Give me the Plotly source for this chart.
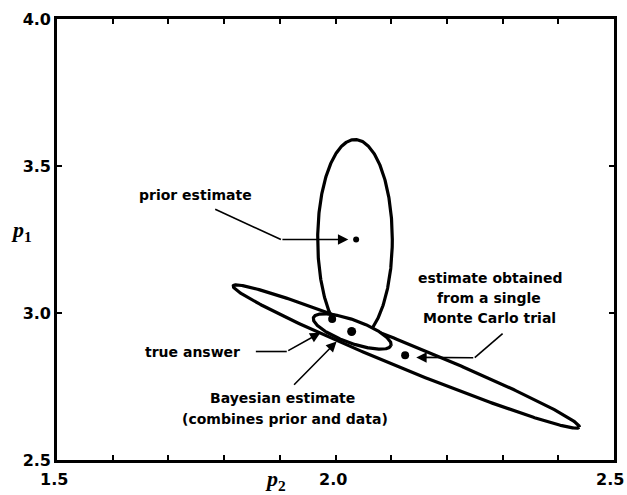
import numpy as np
import plotly.graph_objects as go

# ---- data ----
# ellipses: centre, half-axis vector A, conjugate half-axis vector B (data units)
prior_center = [2.035, 3.25]
prior_A = [0.067, 0.0]
prior_B = [0.0, 0.340]

data_center = [2.127, 2.852]
data_A = [0.3107, -0.2404]
data_B = [-0.0084, -0.0392]

bayes_center = [2.030, 2.937]
bayes_A = [0.0696, -0.0474]
bayes_B = [-0.0066, -0.0370]

# points
prior_pt = [2.037, 3.25]
data_pt = [2.125, 2.856]
bayes_pt = [2.029, 2.937]
true_pt = [1.994, 2.980]

# leader lines: polyline points (tail ... last bend), arrow tip
prior_leader = [[1.784, 1.902], [3.353, 3.250]]
prior_tip = [2.023, 3.250]
mc_leader = [[2.300, 2.250], [2.930, 2.848]]
mc_tip = [2.145, 2.849]
true_leader = [[1.857, 1.9125], [2.869, 2.869]]
true_tip = [1.973, 2.933]
bayes_leader = [[1.923], [2.751]]
bayes_tip = [2.002, 2.903]

labels = [
    ("prior estimate", 1.748, 3.400),
    ("true answer", 1.743, 2.869),
    ("Bayesian estimate", 1.905, 2.710),
    ("(combines prior and data)", 1.909, 2.639),
    ("estimate obtained", 2.277, 3.120),
    ("from a single", 2.275, 3.052),
    ("Monte Carlo trial", 2.277, 2.984),
]

x_ticks = [1.5, 1.6, 1.7, 1.8, 1.9, 2.0, 2.1, 2.2, 2.3, 2.4, 2.5]
x_label_vals = [1.5, 2.0, 2.5]
x_label_text = ["1.5", "2.0", "2.5"]
y_ticks = [2.5, 3.0, 3.5, 4.0]
y_ticktext = ["2.5", "3.0", "3.5", "4.0"]

# ---- figure ----
t = np.linspace(0, 2 * np.pi, 400)


def ellipse(c, A, B):
    x = c[0] + A[0] * np.cos(t) + B[0] * np.sin(t)
    y = c[1] + A[1] * np.cos(t) + B[1] * np.sin(t)
    return x, y


fig = go.Figure()
LW = 3.2
for (c, A, B, fill) in [(prior_center, prior_A, prior_B, None),
                        (data_center, data_A, data_B, None),
                        (bayes_center, bayes_A, bayes_B, "white")]:
    ex, ey = ellipse(c, A, B)
    fig.add_trace(go.Scatter(
        x=ex, y=ey, mode="lines",
        line=dict(color="black", width=LW),
        fill="toself" if fill else None,
        fillcolor=fill if fill else None,
        hoverinfo="skip", showlegend=False))

for pt, s in [(prior_pt, 6), (data_pt, 8), (bayes_pt, 9), (true_pt, 8)]:
    fig.add_trace(go.Scatter(x=[pt[0]], y=[pt[1]], mode="markers",
                             marker=dict(color="black", size=s),
                             showlegend=False, hoverinfo="skip"))

for leader, tip in [(prior_leader, prior_tip), (mc_leader, mc_tip),
                    (true_leader, true_tip), (bayes_leader, bayes_tip)]:
    xs, ys = leader
    if len(xs) > 1:
        fig.add_trace(go.Scatter(x=xs, y=ys, mode="lines",
                                 line=dict(color="black", width=1.6),
                                 showlegend=False, hoverinfo="skip"))
    fig.add_annotation(x=tip[0], y=tip[1], ax=xs[-1], ay=ys[-1],
                       xref="x", yref="y", axref="x", ayref="y",
                       text="", showarrow=True, arrowhead=2,
                       arrowsize=1.3, arrowwidth=1.6, arrowcolor="black")

for txt, lx, ly in labels:
    fig.add_annotation(x=lx, y=ly, xref="x", yref="y", text=txt,
                       showarrow=False, xanchor="center", yanchor="middle",
                       font=dict(family="DejaVu Sans", size=14, color="black",
                                 weight="bold"))

tick_font = dict(family="DejaVu Sans", size=16, color="black", weight="bold")

# x tick labels (last one right-aligned so it stays inside the page)
for v, txt in zip(x_label_vals, x_label_text):
    anchor = "right" if v == x_label_vals[-1] else "center"
    fig.add_annotation(x=v, y=0, xref="x", yref="paper", text=txt,
                       showarrow=False, xanchor=anchor, yanchor="top",
                       xshift=12 if anchor == "right" else -3, yshift=-8,
                       font=tick_font)

# axis titles
fig.add_annotation(text="<i>p</i><sub>1</sub>", xref="paper", yref="paper",
                   x=-0.064, y=0.52, showarrow=False, xanchor="center",
                   yanchor="middle",
                   font=dict(family="Liberation Serif", size=22, color="black",
                             weight="bold"))
fig.add_annotation(text="<i>p</i><sub>2</sub>", xref="paper", yref="paper",
                   x=0.393, y=-0.052, showarrow=False, xanchor="center",
                   yanchor="middle", yshift=3,
                   font=dict(family="Liberation Serif", size=22, color="black",
                             weight="bold"))

axis_common = dict(showgrid=False, zeroline=False, showline=True,
                   linecolor="black", linewidth=2.6, mirror="allticks",
                   ticks="inside", ticklen=5, tickwidth=1.6, tickcolor="black",
                   tickfont=tick_font)

fig.update_xaxes(range=[1.5, 2.5], tickmode="array", tickvals=x_ticks,
                 showticklabels=False, **axis_common)
fig.update_yaxes(range=[2.5, 4.0], tickmode="array", tickvals=y_ticks,
                 ticktext=y_ticktext, **axis_common)

fig.update_layout(width=627, height=495,
                  margin=dict(l=57, r=10, t=17, b=35),
                  plot_bgcolor="white", paper_bgcolor="white",
                  showlegend=False)

fig.write_html("out.html")
